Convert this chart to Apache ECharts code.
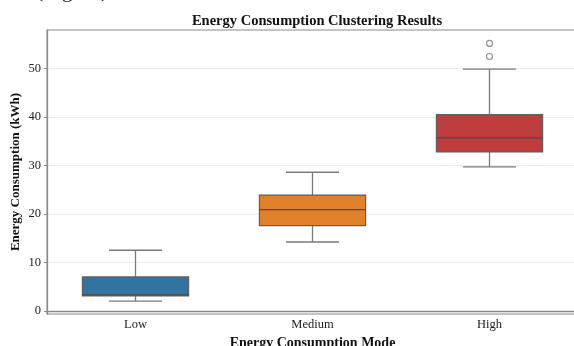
<!DOCTYPE html>
<html>
<head>
<meta charset="utf-8">
<script src="https://cdn.jsdelivr.net/npm/echarts@6/dist/echarts.min.js"></script>
<style>html,body{margin:0;padding:0;background:#fff;}#c{width:574px;height:346px;}</style>
</head>
<body>
<div id="c"></div>
<script>
const categories = ['Low', 'Medium', 'High'];
const whiskerLow = [2.0, 14.2, 29.7];
const q1 = [3.1, 17.6, 32.8];
const median = [3.3, 20.9, 35.7];
const q3 = [7.0, 23.9, 40.5];
const whiskerHigh = [12.5, 28.6, 49.9];
const outlierCategory = [2, 2];
const outlierValues = [55.2, 52.5];
const yTicks = [0, 10, 20, 30, 40, 50];
const boxColors = ['#3274a1', '#e1812c', '#c03d3e'];

const serif = '"Liberation Serif", "Times New Roman", serif';
const chart = echarts.init(document.getElementById('c'), null, {renderer: 'canvas'});

const boxData = categories.map((c, i) => [i, whiskerLow[i], q1[i], median[i], q3[i], whiskerHigh[i]]);
const outlierData = outlierCategory.map((c, i) => [c, outlierValues[i]]);

function renderBox(params, api) {
  const idx = api.value(0);
  const bw = api.size([1, 0])[0] * 0.6;
  const lo = api.coord([idx, api.value(1)]);
  const b1 = api.coord([idx, api.value(2)]);
  const md = api.coord([idx, api.value(3)]);
  const b3 = api.coord([idx, api.value(4)]);
  const hi = api.coord([idx, api.value(5)]);
  const x = lo[0];
  const gray = '#5f5f5f';
  const wgray = '#7a7a7a';
  return {
    type: 'group',
    children: [
      {type: 'line', shape: {x1: x, y1: b1[1], x2: x, y2: lo[1]}, style: {stroke: wgray, lineWidth: 1.3}},
      {type: 'line', shape: {x1: x, y1: b3[1], x2: x, y2: hi[1]}, style: {stroke: wgray, lineWidth: 1.3}},
      {type: 'line', shape: {x1: x - bw / 4, y1: lo[1], x2: x + bw / 4, y2: lo[1]}, style: {stroke: wgray, lineWidth: 1.3}},
      {type: 'line', shape: {x1: x - bw / 4, y1: hi[1], x2: x + bw / 4, y2: hi[1]}, style: {stroke: wgray, lineWidth: 1.3}},
      {type: 'rect', shape: {x: x - bw / 2, y: b3[1], width: bw, height: b1[1] - b3[1]},
        style: {fill: boxColors[idx], stroke: gray, lineWidth: 1.2}},
      {type: 'line', shape: {x1: x - bw / 2, y1: md[1], x2: x + bw / 2, y2: md[1]}, style: {stroke: '#4a4a4a', lineWidth: 1.3}}
    ]
  };
}

chart.setOption({
  animation: false,
  backgroundColor: '#fff',
  title: {
    text: 'Energy Consumption Clustering Results',
    left: 312, top: 9, textAlign: 'center',
    textStyle: {fontFamily: serif, fontWeight: 'bold', fontSize: 14.5, color: '#111'}
  },
  graphic: [{
    type: 'text', left: 36, top: -20,
    style: {text: '(Figure)', font: '22px ' + serif, fill: '#222'}
  }],
  grid: {left: 47, top: 30, width: 531, height: 284, show: true, borderColor: '#8a8a8a', borderWidth: 1,
    outerBoundsMode: 'none', containLabel: false},
  xAxis: {
    type: 'category', data: categories, boundaryGap: true,
    name: 'Energy Consumption Mode', nameLocation: 'middle', nameGap: 21,
    nameTextStyle: {fontFamily: serif, fontWeight: 'bold', fontSize: 14, color: '#111'},
    axisLine: {lineStyle: {color: '#8a8a8a', width: 1.3}},
    axisTick: {alignWithLabel: true, length: 3, lineStyle: {color: '#8a8a8a'}},
    axisLabel: {fontFamily: serif, fontSize: 12.5, color: '#222', margin: 4},
    splitLine: {show: false}
  },
  yAxis: {
    type: 'value', min: -0.66, max: 57.97,
    name: 'Energy Consumption (kWh)', nameLocation: 'middle', nameGap: 25, nameMoveOverlap: false,
    nameTextStyle: {fontFamily: serif, fontWeight: 'bold', fontSize: 13, color: '#111'},
    axisLine: {show: true, lineStyle: {color: '#8a8a8a', width: 1.3}},
    axisTick: {show: true, length: 3, customValues: yTicks, lineStyle: {color: '#8a8a8a'}},
    axisLabel: {
      fontFamily: serif, fontSize: 12.5, color: '#222', margin: 6, customValues: yTicks
    },
    splitLine: {show: true, lineStyle: {color: '#ebebeb', width: 1}}
  },
  series: [
    {type: 'custom', renderItem: renderBox, data: boxData, encode: {x: 0, y: [1, 2, 3, 4, 5]}, z: 3},
    {type: 'scatter', data: outlierData, symbol: 'circle', symbolSize: 6,
      itemStyle: {color: '#fff', borderColor: '#777', borderWidth: 1.2}, z: 4}
  ]
});
</script>
</body>
</html>
